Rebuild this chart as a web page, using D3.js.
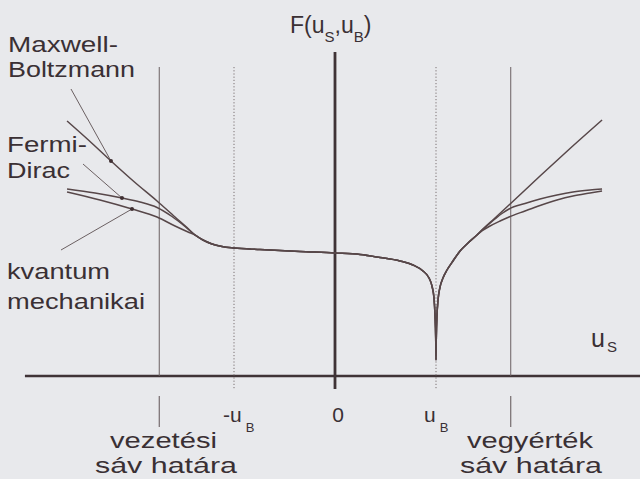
<!DOCTYPE html>
<html>
<head>
<meta charset="utf-8">
<script src="https://cdn.jsdelivr.net/npm/d3@7"></script>
<style>
  html, body { margin: 0; padding: 0; background: #e8e9ec; }
  svg { display: block; }
  text { font-family: "Liberation Sans", Arial, Helvetica, sans-serif; fill: #3a3034; }
</style>
</head>
<body>
<svg id="chart" width="640" height="479"></svg>
<script>
// Surface potential function F(u_S, u_B) vs. u_S — [u, F] pairs.
// Common middle section (all three models coincide here)
const core = [
  [-1.386, 1.41], [-1.307, 1.36], [-1.218, 1.32], [-1.119, 1.295], [-1.0, 1.28],
  [-0.743, 1.265], [-0.347, 1.245], [0.0, 1.23], [0.248, 1.215], [0.446, 1.185],
  [0.644, 1.15], [0.772, 1.11], [0.871, 1.05], [0.931, 0.98], [0.960, 0.90],
  [0.980, 0.78], [0.990, 0.61], [0.997, 0.38], [1.000, 0.16], [1.003, 0.38],
  [1.010, 0.61], [1.020, 0.76], [1.040, 0.89], [1.069, 0.98], [1.109, 1.06],
  [1.168, 1.15], [1.238, 1.25], [1.317, 1.33], [1.406, 1.41]
];

// Maxwell–Boltzmann branches
const mbLeft = [
  [-2.653, 2.55], [-2.436, 2.355], [-2.218, 2.15], [-1.980, 1.935],
  [-1.762, 1.75], [-1.584, 1.59], [-1.465, 1.485]
];
const mbRight = [
  [1.455, 1.46], [1.584, 1.58], [1.723, 1.71], [2.030, 2.00], [2.327, 2.275], [2.644, 2.56]
];

// Fermi–Dirac branches
const fdLeft = [
  [-2.653, 1.87], [-2.376, 1.83], [-2.109, 1.78], [-1.931, 1.74],
  [-1.762, 1.685], [-1.614, 1.595], [-1.485, 1.495]
];
const fdRight = [
  [1.455, 1.46], [1.525, 1.52], [1.584, 1.57], [1.653, 1.625], [1.723, 1.67],
  [1.881, 1.725], [2.030, 1.77], [2.198, 1.81], [2.356, 1.84], [2.525, 1.86], [2.644, 1.87]
];

// Quantum-mechanical branches
const qmLeft = [
  [-2.653, 1.84], [-2.327, 1.76], [-2.010, 1.67], [-1.762, 1.59],
  [-1.584, 1.50], [-1.455, 1.44]
];
const qmRight = [
  [1.455, 1.45], [1.535, 1.50], [1.634, 1.55], [1.723, 1.59], [1.881, 1.65],
  [2.030, 1.705], [2.198, 1.76], [2.356, 1.80], [2.525, 1.83], [2.644, 1.85]
];

// Reference positions on the u_S axis
const bandEdges = [-1.74, 1.74];   // band edges (solid)
const barriers = [-1, 1];          // ±u_B (dotted)

// Leader lines: label end -> point on curve
const leaders = [
  { from: [-2.614, 2.87], to: [-2.218, 2.15] },   // Maxwell-Boltzmann
  { from: [-2.495, 2.12], to: [-2.109, 1.78] },   // Fermi-Dirac
  { from: [-2.713, 1.26], to: [-2.010, 1.67] }    // kvantum mechanikai
];

const series = [
  [...mbLeft, ...core, ...mbRight],
  [...fdLeft, ...core, ...fdRight],
  [...qmLeft, ...core, ...qmRight]
];

const svg = d3.select("#chart");
const x = d3.scaleLinear().domain([-3, 3]).range([32, 638]);
const y = d3.scaleLinear().domain([0, 3.5]).range([376, 26]);

const ink = "#3f3336";
const thin = "#6b6062";

// u_S axis
svg.append("line")
  .attr("x1", x(-3.07)).attr("x2", x(3.03))
  .attr("y1", y(0)).attr("y2", y(0))
  .attr("stroke", ink).attr("stroke-width", 2.6);

// F axis
svg.append("line")
  .attr("x1", x(0)).attr("x2", x(0))
  .attr("y1", 52).attr("y2", 389)
  .attr("stroke", ink).attr("stroke-width", 2.8);

// band edges: upper part and tick below axis
bandEdges.forEach(u => {
  svg.append("line")
    .attr("x1", x(u)).attr("x2", x(u)).attr("y1", 67).attr("y2", y(0))
    .attr("stroke", thin).attr("stroke-width", 1);
  svg.append("line")
    .attr("x1", x(u)).attr("x2", x(u)).attr("y1", 396).attr("y2", 427)
    .attr("stroke", thin).attr("stroke-width", 1.1);
});

// ±u_B dotted guides
barriers.forEach(u => {
  svg.append("line")
    .attr("x1", x(u)).attr("x2", x(u)).attr("y1", 67).attr("y2", 389)
    .attr("stroke", "#7a7072").attr("stroke-width", 1)
    .attr("stroke-dasharray", "1.2,2");
});

// curves
const line = d3.line().x(d => x(d[0])).y(d => y(d[1])).curve(d3.curveMonotoneX);
svg.append("g").selectAll("path").data(series).join("path")
  .attr("d", line)
  .attr("fill", "none")
  .attr("stroke", "#574749")
  .attr("stroke-width", 1.5)
  .attr("stroke-linejoin", "round");

// leader lines with dots
leaders.forEach(l => {
  svg.append("line")
    .attr("x1", x(l.from[0])).attr("y1", y(l.from[1]))
    .attr("x2", x(l.to[0])).attr("y2", y(l.to[1]))
    .attr("stroke", thin).attr("stroke-width", 1);
  svg.append("circle")
    .attr("cx", x(l.to[0])).attr("cy", y(l.to[1])).attr("r", 2)
    .attr("fill", "#3f2f32");
});

// text helpers: glyphs stretched to the set width
function label(tx, ty, str, len, size = 22) {
  svg.append("text")
    .attr("x", tx).attr("y", ty)
    .attr("font-size", size)
    .attr("textLength", len).attr("lengthAdjust", "spacingAndGlyphs")
    .text(str);
}

label(8, 52, "Maxwell-", 110);
label(8, 77, "Boltzmann", 127);
label(7, 152, "Fermi-", 80);
label(7, 178, "Dirac", 63);
label(7, 279, "kvantum", 103);
label(7, 309, "mechanikai", 138);

label(110, 448, "vezetési", 107);
label(95, 473, "sáv határa", 142);
label(467, 448, "vegyérték", 126);
label(460, 473, "sáv határa", 142);

// axis title F(u_S,u_B)
const ft = svg.append("text").attr("x", 290).attr("y", 33).attr("font-size", 23);
ft.append("tspan").text("F(u");
ft.append("tspan").attr("dy", 9).attr("font-size", 15).text("S");
ft.append("tspan").attr("dy", -9).text(",u");
ft.append("tspan").attr("dy", 9).attr("font-size", 15).text("B");
ft.append("tspan").attr("dy", -9).text(")");

// u_S axis label
const us = svg.append("text").attr("x", 591).attr("y", 347).attr("font-size", 25);
us.append("tspan").text("u");
us.append("tspan").attr("dy", 5).attr("dx", 2).attr("font-size", 15).text("S");

// tick labels
const t1 = svg.append("text").attr("x", x(-1) - 11).attr("y", 422).attr("font-size", 21);
t1.append("tspan").text("-u");
t1.append("tspan").attr("dy", 10).attr("dx", 4).attr("font-size", 13).text("B");

svg.append("text").attr("x", x(0) + 3).attr("y", 422).attr("font-size", 21)
  .attr("text-anchor", "middle").text("0");

const t2 = svg.append("text").attr("x", x(1) - 12).attr("y", 422).attr("font-size", 21);
t2.append("tspan").text("u");
t2.append("tspan").attr("dy", 10).attr("dx", 4).attr("font-size", 13).text("B");
</script>
</body>
</html>
